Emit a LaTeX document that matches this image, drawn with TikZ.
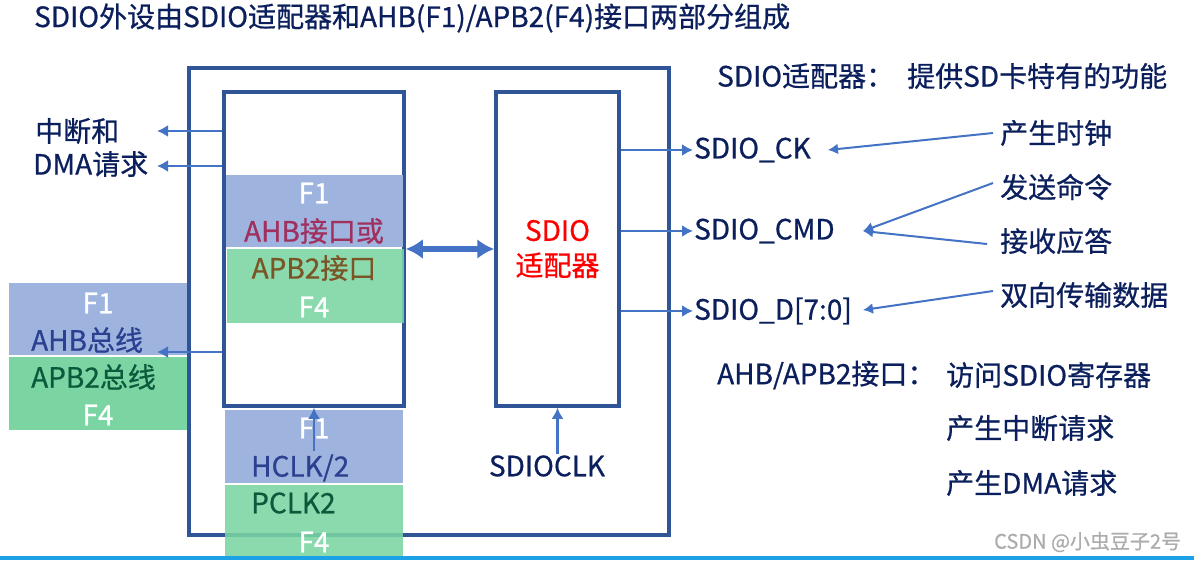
\documentclass[tikz,border=0pt]{standalone}
\usepackage{fontspec}
\setmainfont{Noto Sans CJK SC}[FakeBold=0.7]
\usepackage{xcolor}
\usetikzlibrary{arrows.meta}
\definecolor{frameblue}{HTML}{2F5597}
\definecolor{arrowblue}{HTML}{4472C4}
\definecolor{textnavy}{HTML}{0B1F5C}
\definecolor{fillblue}{HTML}{9EB4DF}
\definecolor{fillgreen}{HTML}{7AD5A3}
\definecolor{ahbred}{HTML}{A0305E}
\definecolor{apbbrown}{HTML}{7A5526}
\definecolor{busblue}{HTML}{2B4090}
\definecolor{busgreen}{HTML}{0C5A3C}
\definecolor{csdnblue}{HTML}{1BA1E6}

\begin{document}
\begin{tikzpicture}[x=1pt, y=-1pt, every node/.style={font=\fontsize{28}{32}\selectfont, text=textnavy, inner sep=1pt},%
        frame/.style={draw=frameblue, line width=3.5pt, rectangle, inner sep=0pt}, blk/.style={rectangle, inner sep=0pt},%
        lbl/.style={anchor=west}, arr/.style={draw=arrowblue, line width=2.8pt, -{Latex[length=11pt,width=12pt]}},%
        note/.style={draw=arrowblue, line width=2pt, -{Latex[length=10pt,width=11pt]}},%
        dbl/.style={draw=arrowblue, line width=6pt, {Latex[length=17pt,width=20pt]}-{Latex[length=17pt,width=20pt]}}]
        \useasboundingbox (0,0) rectangle (1194,560);
        \node[lbl] (title) at (33,18) {SDIO外设由SDIO适配器和AHB(F1)/APB2(F4)接口两部分组成};

        % frames
        \node[frame, minimum width=480pt, minimum height=467pt] (sdio) at (429,301.5) {};
        \node[frame, minimum width=180pt, minimum height=314pt] (iface) at (314,249) {};
        \node[frame, minimum width=123pt, minimum height=314pt, text=red, align=center, font=\fontsize{28}{35}\selectfont] (adapter) at (557.5,249) {SDIO\\适配器};

        % interface halves
        \node[blk, fill=fillblue, minimum width=177pt, minimum height=72pt] (ifup) at (314.5,211) {};
        \node[blk, fill=fillgreen, fill opacity=0.88, minimum width=177pt, minimum height=74pt] (iflow) at (315.5,286) {};
        \node[text=white] (iff1) at (314,193) {F1};
        \node[text=ahbred] (ifahb) at (314,231) {AHB接口或};
        \node[text=apbbrown] (ifapb) at (314,268) {APB2接口};
        \node[text=white] (iff4) at (314,307) {F4};

        % buses
        \node[blk, fill=fillblue, minimum width=178pt, minimum height=72pt] (ahbbus) at (98,319) {};
        \node[blk, fill=fillgreen, minimum width=178pt, minimum height=73pt] (apbbus) at (98,393.5) {};
        \node[text=white] (busf1) at (98,303) {F1};
        \node[lbl, text=busblue] (ahbtxt) at (30,340) {AHB总线};
        \node[lbl, text=busgreen] (apbtxt) at (30,377) {APB2总线};
        \node[text=white] (busf4) at (98,415) {F4};

        % clocks
        \node[blk, fill=fillblue, minimum width=178pt, minimum height=73pt] (hclk) at (314,446.5) {};
        \node[blk, fill=fillgreen, fill opacity=0.88, minimum width=178pt, minimum height=72pt] (pclk) at (314,521) {};
        \node[text=white] (clkf1) at (314,428) {F1};
        \node[lbl, text=busblue] (hclktxt) at (250,468) {HCLK/2};
        \node[lbl, text=busgreen] (pclktxt) at (250,503) {PCLK2};
        \node[text=white] (clkf4) at (314,542) {F4};

        % left side
        \node[lbl] (irq) at (34,131) {中断和};
        \node[lbl] (dma) at (32,164) {DMA请求};
        \coordinate (irqtip) at (157,131);
        \coordinate (dmatip) at (157,166);
        \coordinate (bustip) at (157,352);
        \draw[arr] (iface.west |- irqtip) -- (irqtip);
        \draw[arr] (iface.west |- dmatip) -- (dmatip);
        \draw[arr] (iface.west |- bustip) -- (bustip);
        \coordinate (hclkin) at (314,451);
        \draw[arr] (hclkin) -- (iface.south);
        \draw[dbl] (iface.east) -- (adapter.west);

        % SDIO pins
        \node[lbl] (ck) at (693,150) {SDIO\_CK};
        \node[lbl] (cmd) at (693,231) {SDIO\_CMD};
        \node[lbl] (dat) at (693,311) {SDIO\_D[7:0]};
        \draw[arr] (adapter.east |- ck) -- (ck.west);
        \draw[arr] (adapter.east |- cmd) -- (cmd.west);
        \draw[arr] (adapter.east |- dat) -- (dat.west);
        \node (clk) at (547,466) {SDIOCLK};
        \draw[arr] (adapter.south |- clk.north) -- (adapter.south);

        % notes
        \node[lbl] (adhead) at (716,76) {SDIO适配器：};
        \node[lbl] (adfunc) at (906,76) {提供SD卡特有的功能};
        \node[lbl] (gclk) at (999,133) {产生时钟};
        \node[lbl] (scmd) at (999,187) {发送命令};
        \node[lbl] (rrsp) at (999,241) {接收应答};
        \node[lbl] (xfer) at (999,295) {双向传输数据};
        \coordinate (cktip) at (828,150);
        \coordinate (cmdtip) at (863,231);
        \coordinate (dattip) at (863,310);
        \draw[note] ([xshift=-6pt]gclk.west) -- (cktip);
        \draw[note] ([xshift=-6pt,yshift=4pt]scmd.west) -- (cmdtip);
        \draw[note] ([xshift=-12pt,yshift=-3pt]rrsp.west) -- (cmdtip);
        \draw[note] ([xshift=-6pt,yshift=4pt]xfer.west) -- (dattip);
        \node[lbl] (bushead) at (716,375) {AHB/APB2接口：};
        \node[lbl] (regacc) at (945,375) {访问SDIO寄存器};
        \node[lbl] (irqgen) at (945,428) {产生中断请求};
        \node[lbl] (dmagen) at (945,483) {产生DMA请求};

        \node[lbl, text=gray!65, font=\fontsize{20}{24}\selectfont] (mark) at (993,542) {CSDN @小虫豆子2号};
        \fill[csdnblue] (0,556) rectangle (1194,560);
    \end{tikzpicture}
\end{document}
